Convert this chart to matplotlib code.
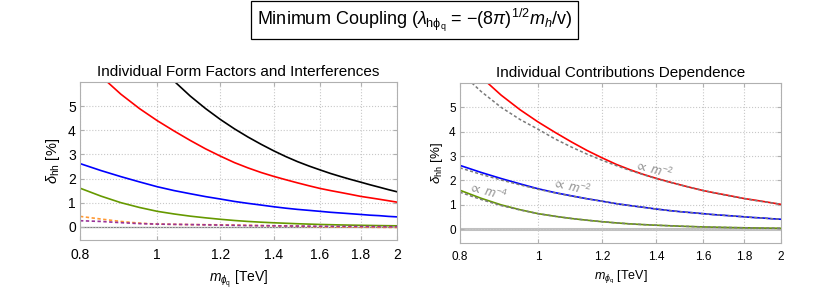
import matplotlib
matplotlib.use("Agg")
from matplotlib import pyplot as plt

plt.rcParams['font.family'] = ['Liberation Sans', 'DejaVu Sans']
plt.rcParams['mathtext.fontset'] = 'custom'
plt.rcParams['mathtext.rm'] = 'Liberation Sans'
plt.rcParams['mathtext.it'] = 'Liberation Sans:italic'
plt.rcParams['mathtext.fallback'] = 'stixsans'

# masses in TeV, deltas in %
m_black = [1.053, 1.1, 1.15, 1.2, 1.25, 1.3, 1.35, 1.4, 1.45, 1.5, 1.55, 1.6,
           1.65, 1.7, 1.75, 1.8, 1.85, 1.9, 1.95, 2.0]
d_black = [6.0, 5.42, 4.9, 4.45, 4.06, 3.72, 3.42, 3.15, 2.91, 2.7, 2.52, 2.36,
           2.21, 2.08, 1.96, 1.85, 1.74, 1.64, 1.54, 1.45]

m_red = [0.866, 0.9, 0.95, 1.0, 1.05, 1.1, 1.15, 1.2, 1.25, 1.3, 1.35, 1.4,
         1.45, 1.5, 1.55, 1.6, 1.65, 1.7, 1.75, 1.8, 1.85, 1.9, 1.95, 2.0]
d_red = [6.0, 5.5, 4.9, 4.4, 3.97, 3.58, 3.23, 2.93, 2.66, 2.44, 2.25, 2.09,
         1.95, 1.82, 1.7, 1.59, 1.5, 1.42, 1.34, 1.26, 1.2, 1.14, 1.08, 1.02]

m_grid = [0.8, 0.85, 0.9, 0.95, 1.0, 1.05, 1.1, 1.15, 1.2, 1.25, 1.3, 1.35,
          1.4, 1.45, 1.5, 1.55, 1.6, 1.65, 1.7, 1.75, 1.8, 1.85, 1.9, 1.95, 2.0]
d_blue = [2.62, 2.33, 2.08, 1.86, 1.66, 1.5, 1.37, 1.25, 1.15, 1.05, 0.97, 0.9,
          0.83, 0.77, 0.72, 0.68, 0.64, 0.6, 0.57, 0.54, 0.51, 0.48, 0.46, 0.43, 0.41]
d_green = [1.6, 1.27, 1.0, 0.8, 0.64, 0.53, 0.44, 0.37, 0.31, 0.26, 0.22, 0.19,
           0.165, 0.145, 0.125, 0.11, 0.095, 0.085, 0.075, 0.067, 0.06, 0.054,
           0.048, 0.043, 0.039]

m_int = [0.8, 0.85, 0.9, 0.95, 1.0, 1.1, 1.2, 1.3, 1.4, 1.5, 1.6, 1.8, 2.0]
d_orange = [0.43, 0.32, 0.22, 0.15, 0.11, 0.09, 0.08, 0.06, 0.04, 0.02, 0.0, -0.02, -0.03]
d_purple = [0.25, 0.22, 0.17, 0.13, 0.11, 0.09, 0.07, 0.05, 0.04, 0.03, 0.02, 0.01, 0.0]

# scaling curves on the right panel
m_fit_red = [0.828, 0.85, 0.9, 0.95, 1.0, 1.05, 1.1, 1.15, 1.2, 1.25, 1.3, 1.35,
             1.4, 1.45, 1.5, 1.55, 1.6, 1.65, 1.7, 1.75, 1.8, 1.85, 1.9, 1.95, 2.0]
d_fit_red = [6.0, 5.65, 5.0, 4.5, 4.1, 3.7, 3.37, 3.08, 2.83, 2.61, 2.41, 2.24,
             2.08, 1.94, 1.82, 1.7, 1.59, 1.5, 1.41, 1.33, 1.26, 1.19, 1.13, 1.08, 1.02]
d_fit_blue = [2.52, 2.25, 2.02, 1.82, 1.64, 1.49, 1.36, 1.25, 1.15, 1.05, 0.97, 0.9,
              0.83, 0.77, 0.72, 0.68, 0.64, 0.6, 0.57, 0.54, 0.51, 0.48, 0.46, 0.43, 0.41]
d_fit_green = [1.52, 1.22, 0.97, 0.79, 0.64, 0.53, 0.44, 0.37, 0.31, 0.26, 0.22, 0.19,
               0.165, 0.145, 0.125, 0.11, 0.095, 0.085, 0.075, 0.067, 0.06, 0.054,
               0.048, 0.043, 0.039]

xticks = [0.8, 1, 1.2, 1.4, 1.6, 1.8, 2]
xtick_labels = ['0.8', '1', '1.2', '1.4', '1.6', '1.8', '2']
yticks = [0, 1, 2, 3, 4, 5]

c_red = '#ff0000'
c_blue = '#0000ff'
c_green = '#669900'
c_orange = '#ff9933'
c_purple = '#993399'
c_fit = '#7a7a7a'
dash = (0, (2, 1.5))

fig = plt.figure(figsize=(8.3, 2.92), dpi=100)
ax1 = fig.add_axes([0.0964, 0.178, 0.382, 0.541])
ax2 = fig.add_axes([0.554, 0.169, 0.387, 0.547])


def style(ax, labelsize):
    ax.set_xscale('log')
    ax.set_xlim(0.8, 2.0)
    ax.set_ylim(-0.55, 6.0)
    ax.set_xticks(xticks)
    ax.set_xticklabels(xtick_labels)
    ax.minorticks_off()
    ax.set_yticks(yticks)
    ax.grid(True, color='#c8c8c8', linestyle=':', linewidth=0.8)
    for s in ax.spines.values():
        s.set_color('#b0b0b0')
        s.set_linewidth(0.8)
    ax.tick_params(direction='in', length=3, color='#b0b0b0', labelsize=labelsize,
                   top=True, right=True)
    ax.tick_params(axis='x', pad=6)
    ax.tick_params(axis='y', pad=3)


style(ax1, 10)
ax1.axhline(0, color='#808080', lw=0.9, zorder=1)
ax1.plot(m_black, d_black, color='black', lw=1.2)
ax1.plot(m_red, d_red, color=c_red, lw=1.2)
ax1.plot(m_grid, d_blue, color=c_blue, lw=1.2)
ax1.plot(m_grid, d_green, color=c_green, lw=1.2)
ax1.plot(m_int, d_orange, color=c_orange, lw=1.2, ls=dash)
ax1.plot(m_int, d_purple, color=c_purple, lw=1.2, ls=dash)
ax1.set_title('Individual Form Factors and Interferences', fontsize=11, pad=4)
ax1.set_ylabel(r'$\delta_{\rm hh}$ [%]', fontsize=10.5, labelpad=4)
ax1.set_xlabel(r'$m_{\phi_{\rm q}}$ [TeV]', fontsize=10, labelpad=4)

style(ax2, 8.5)
ax2.axhline(0, color='#c0c0c0', lw=2.2, zorder=1)
ax2.plot(m_red, d_red, color=c_red, lw=1.2)
ax2.plot(m_grid, d_blue, color=c_blue, lw=1.2)
ax2.plot(m_grid, d_green, color=c_green, lw=1.2)
ax2.plot(m_fit_red, d_fit_red, color=c_fit, lw=1.1, ls=dash)
ax2.plot(m_grid, d_fit_blue, color=c_fit, lw=1.1, ls=dash)
ax2.plot(m_grid, d_fit_green, color=c_fit, lw=1.1, ls=dash)
ax2.text(1.39, 2.45, r'$\propto\ m^{-2}$', color='#909090', fontsize=9,
         rotation=-15, ha='center', va='center')
ax2.text(1.10, 1.72, r'$\propto\ m^{-2}$', color='#909090', fontsize=9,
         rotation=-13, ha='center', va='center')
ax2.text(0.865, 1.55, r'$\propto\ m^{-4}$', color='#909090', fontsize=9,
         rotation=-15, ha='center', va='center')
ax2.set_title('Individual Contributions Dependence', fontsize=11, pad=4)
ax2.set_ylabel(r'$\delta_{\rm hh}$ [%]', fontsize=9.5, labelpad=3)
ax2.set_xlabel(r'$m_{\phi_{\rm q}}$ [TeV]', fontsize=9, labelpad=4)

fig.text(0.4993, 0.93,
         r'Minimum Coupling ($\lambda_{\rm h\phi_q}$ = $-(8\pi)^{1/2}$$m_h$/v)',
         fontsize=13, ha='center', va='center',
         bbox=dict(boxstyle='square,pad=0.3', fc='white', ec='black', lw=0.9))

fig.savefig('out.png', dpi=100)
